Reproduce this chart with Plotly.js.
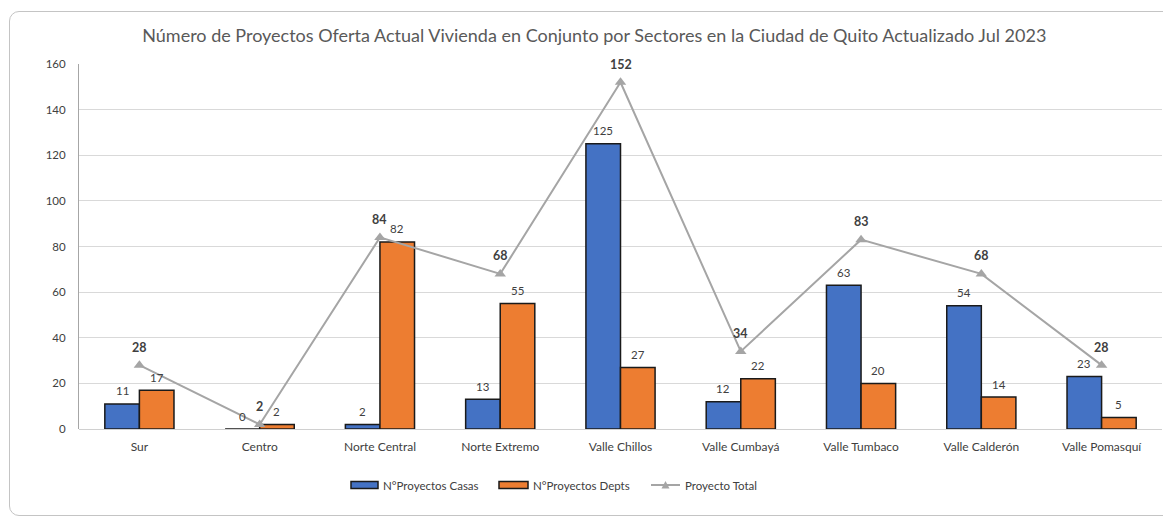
<!DOCTYPE html>
<html>
<head>
<meta charset="utf-8">
<script src="https://cdn.plot.ly/plotly-3.0.1.min.js"></script>
<style>
  html, body { margin: 0; padding: 0; background: #fff; }
  #chart { width: 1163px; height: 517px; position: absolute; left: 0; top: 0; }
  #frame { position: absolute; left: 9px; top: 11px; width: 1170px; height: 503px;
           border: 1px solid #c4c4c4; border-radius: 10px; pointer-events: none; }
</style>
</head>
<body>
<div id="chart"></div>
<div id="frame"></div>
<script>
const categories = ["Sur", "Centro", "Norte Central", "Norte Extremo", "Valle Chillos", "Valle Cumbayá", "Valle Tumbaco", "Valle Calderón", "Valle Pomasquí"];
const casas = [11, 0, 2, 13, 125, 12, 63, 54, 23];
const depts = [17, 2, 82, 55, 27, 22, 20, 14, 5];
const total = [28, 2, 84, 68, 152, 34, 83, 68, 28];
const yTicks = [0, 20, 40, 60, 80, 100, 120, 140, 160];
const seriesNames = ["N°Proyectos Casas", "N°Proyectos Depts", "Proyecto Total"];

const fontFam = "Lato, 'Open Sans', sans-serif";
const labelColor = "#404040";
const blue = "#4472C4", orange = "#ED7D31", grey = "#A5A5A5", outline = "#1a1a1a";

// plot area in pixels (for converting legend pixel positions to paper coords)
const M = { l: 79, r: 1, t: 64, b: 88 };
const W = 1163, H = 517;
const pw = W - M.l - M.r, ph = H - M.t - M.b;
const px = v => (v - M.l) / pw;
const py = v => (H - M.b - v) / ph;

const traces = [
  {
    type: "bar", name: seriesNames[0], x: categories, y: casas,
    marker: { color: blue, line: { color: outline, width: 1.5 } }, showlegend: false
  },
  {
    type: "bar", name: seriesNames[1], x: categories, y: depts,
    marker: { color: orange, line: { color: outline, width: 1.5 } }, showlegend: false
  },
  {
    type: "scatter", mode: "lines+markers", name: seriesNames[2],
    x: categories, y: total, cliponaxis: false, showlegend: false,
    line: { color: grey, width: 2 },
    marker: { symbol: "triangle-up", size: 10, color: grey }
  }
];

const annotations = [];
const barOff = 17.3;
categories.forEach((c, i) => {
  annotations.push({ x: c, y: casas[i], xref: "x", yref: "y", text: String(casas[i]), showarrow: false,
    xshift: -barOff, yshift: 13, yanchor: "middle", font: { family: fontFam, size: 11.5, color: labelColor } });
  annotations.push({ x: c, y: depts[i], xref: "x", yref: "y", text: String(depts[i]), showarrow: false,
    xshift: barOff, yshift: 13, yanchor: "middle", font: { family: fontFam, size: 11.5, color: labelColor } });
  annotations.push({ x: c, y: total[i], xref: "x", yref: "y", text: String(total[i]), showarrow: false,
    yshift: 18, yanchor: "middle", font: { family: fontFam, size: 12.5, color: labelColor, weight: "bold" } });
});

// custom legend (wide rectangle swatches like the reference)
const legY = 485;
const legItems = [
  { x0: 351, x1: 378, kind: "bar", color: blue, tx: 381, label: seriesNames[0] },
  { x0: 499, x1: 528, kind: "bar", color: orange, tx: 531, label: seriesNames[1] },
  { x0: 651, x1: 680, kind: "line", color: grey, tx: 683, label: seriesNames[2] }
];
const shapes = [];
legItems.forEach(it => {
  if (it.kind === "bar") {
    shapes.push({ type: "rect", xref: "paper", yref: "paper", x0: px(it.x0), x1: px(it.x1),
      y0: py(legY + 3.5), y1: py(legY - 3.5), fillcolor: it.color, line: { color: outline, width: 1.5 } });
  } else {
    shapes.push({ type: "line", xref: "paper", yref: "paper", x0: px(it.x0), x1: px(it.x1),
      y0: py(legY), y1: py(legY), line: { color: it.color, width: 2 } });
    shapes.push({ type: "path", xref: "paper", yref: "paper",
      path: `M ${px(it.x0 + 10.5)} ${py(legY + 3.5)} L ${px(it.x0 + 18.5)} ${py(legY + 3.5)} L ${px(it.x0 + 14.5)} ${py(legY - 4)} Z`,
      fillcolor: it.color, line: { color: it.color, width: 0 } });
  }
  annotations.push({ xref: "paper", yref: "paper", x: px(it.tx), y: py(legY), xanchor: "left", yanchor: "middle",
    text: it.label, showarrow: false, font: { family: fontFam, size: 11.5, color: labelColor } });
});

const layout = {
  width: W, height: H,
  margin: M,
  paper_bgcolor: "rgba(0,0,0,0)", plot_bgcolor: "#fff",
  font: { family: fontFam, size: 11, color: labelColor },
  title: {
    text: "Número de Proyectos Oferta Actual Vivienda en Conjunto por Sectores en la Ciudad de Quito Actualizado Jul 2023",
    font: { family: fontFam, size: 18, color: "#595959" },
    x: 0.511, xanchor: "center", y: 0.93, yanchor: "middle", xref: "container", yref: "container"
  },
  barmode: "group", bargap: 0.425, bargroupgap: 0,
  xaxis: {
    type: "category", showline: false, ticks: "", showgrid: false, ticklabelstandoff: 9,
    tickfont: { family: fontFam, size: 12, color: labelColor }
  },
  yaxis: {
    range: [0, 160], tickvals: yTicks, ticktext: yTicks.map(String),
    showgrid: true, gridcolor: "#d9d9d9", gridwidth: 1,
    zeroline: true, zerolinecolor: "#d0d0d0", zerolinewidth: 1,
    showline: true, linecolor: "#a6a6a6", linewidth: 1,
    ticks: "", ticklabelstandoff: 10, tickfont: { family: fontFam, size: 11.5, color: labelColor }
  },
  showlegend: false,
  annotations: annotations,
  shapes: shapes
};

Plotly.newPlot("chart", traces, layout, { displayModeBar: false, responsive: false });
</script>
</body>
</html>
